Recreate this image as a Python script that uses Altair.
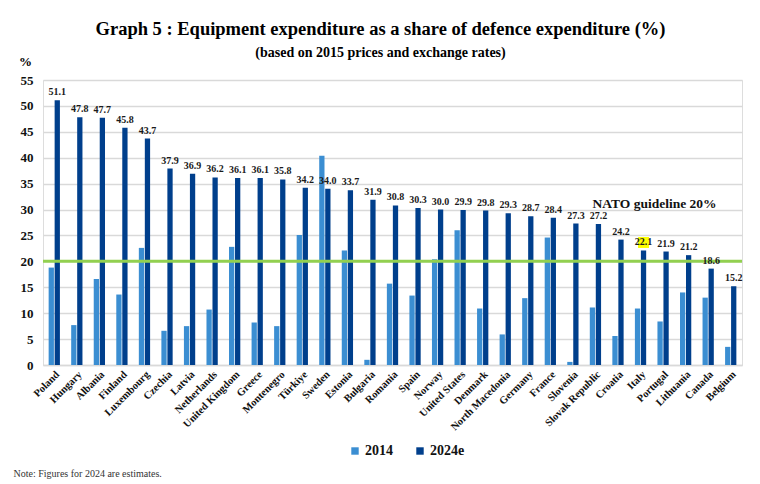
import altair as alt
import pandas as pd

countries = ["Poland", "Hungary", "Albania", "Finland", "Luxembourg", "Czechia", "Latvia",
             "Netherlands", "United Kingdom", "Greece", "Montenegro", "Türkiye", "Sweden",
             "Estonia", "Bulgaria", "Romania", "Spain", "Norway", "United States", "Denmark",
             "North Macedonia", "Germany", "France", "Slovenia", "Slovak Republic", "Croatia",
             "Italy", "Portugal", "Lithuania", "Canada", "Belgium"]
v2014 = [18.8, 7.7, 16.6, 13.6, 22.6, 6.6, 7.5, 10.7, 22.8, 8.2, 7.5, 25.1, 40.4, 22.1, 1.0,
         15.7, 13.4, 20.4, 26.0, 10.9, 5.9, 12.9, 24.6, 0.6, 11.1, 5.6, 10.9, 8.4, 14.0, 13.0, 3.5]
v2024 = [51.1, 47.8, 47.7, 45.8, 43.7, 37.9, 36.9, 36.2, 36.1, 36.1, 35.8, 34.2, 34.0, 33.7, 31.9,
         30.8, 30.3, 30.0, 29.9, 29.8, 29.3, 28.7, 28.4, 27.3, 27.2, 24.2, 22.1, 21.9, 21.2, 18.6, 15.2]
series = ["2014", "2024e"]
colors = ["#3b8ed2", "#003f8c"]
y_ticks = [0, 5, 10, 15, 20, 25, 30, 35, 40, 45, 50, 55]
guideline = 20
guideline_label = "NATO guideline 20%"
highlight = "Italy"

rows = []
for c, a, b in zip(countries, v2014, v2024):
    rows.append({"country": c, "series": series[0], "value": a})
    rows.append({"country": c, "series": series[1], "value": b})
df = pd.DataFrame(rows)

FONT = "Liberation Serif"

x = alt.X("country:N", sort=countries,
          scale=alt.Scale(paddingInner=0.5, paddingOuter=0.25),
          axis=alt.Axis(title="Note: Figures for 2024 are estimates.",
                        titleFont=FONT, titleFontSize=10, titleFontWeight="normal",
                        titleColor="#333333", titleAlign="left", titleBaseline="middle",
                        titleX=-30, titleY=108, titleAngle=0,
                        labelAngle=315, labelFont=FONT, labelFontSize=10.5,
                        labelFontWeight="bold", labelColor="#111111", labelPadding=4,
                        ticks=False, domainColor="#d9d9d9", domainWidth=1.5,
                        grid=False, labelOverlap=False))
xo = alt.XOffset("series:N", sort=series, scale=alt.Scale(paddingInner=0.12))
y = alt.Y("value:Q", scale=alt.Scale(domain=[0, 55], nice=False),
          axis=alt.Axis(title="%", titleAngle=0, titleX=-18, titleY=-12,
                        titleAlign="center", titleBaseline="bottom",
                        titleFont=FONT, titleFontSize=13, titleFontWeight="bold",
                        values=y_ticks, tickCount=12, labelOverlap=False,
                        labelFont=FONT, labelFontSize=13,
                        labelFontWeight="bold", labelColor="#111111", labelPadding=10,
                        ticks=False, domain=False, gridColor="#d9d9d9", gridWidth=1.5))

bars = alt.Chart(df).mark_bar().encode(
    x=x, xOffset=xo, y=y,
    color=alt.Color("series:N", sort=series,
                    scale=alt.Scale(domain=series, range=colors),
                    legend=alt.Legend(title=None, orient="none", legendX=305, legendY=364,
                                      direction="horizontal", symbolType="square",
                                      symbolSize=55, symbolStrokeWidth=0,
                                      labelFont=FONT, labelFontSize=14,
                                      labelFontWeight="bold", labelColor="#111111",
                                      columnPadding=20, labelOffset=3))
)

rule = alt.Chart(pd.DataFrame({"value": [guideline]})).mark_rule(
    color="#92d050", strokeWidth=3).encode(y=y)

hl = alt.Chart(df[(df.country == highlight) & (df.series == series[1])]).mark_square(
    size=120, color="#ffff00", opacity=1, yOffset=-8).encode(x=x, xOffset=xo, y=y)

labels = alt.Chart(df[df.series == series[1]]).mark_text(
    baseline="bottom", dy=-3, font=FONT, fontSize=10, fontWeight="bold", color="#1a1a1a"
).encode(x=x, xOffset=xo, y=y, text=alt.Text("value:Q", format=".1f"))

nato = alt.Chart(pd.DataFrame({"country": [highlight], "value": [31.0],
                               "t": [guideline_label]})).mark_text(
    font=FONT, fontSize=13.5, fontWeight="bold", color="#111111", dx=14
).encode(x=x, y=y, text="t:N")

chart = alt.layer(bars, rule, hl, labels, nato).properties(
    width=699, height=285,
    title=alt.TitleParams(
        text="Graph 5 : Equipment expenditure as a share of defence expenditure (%)",
        subtitle="(based on 2015 prices and exchange rates)",
        font=FONT, fontSize=18.5, fontWeight="bold", color="#000000",
        subtitleFont=FONT, subtitleFontSize=14, subtitleFontWeight="bold",
        subtitleColor="#000000", subtitlePadding=8, anchor="middle", dx=-12, dy=25,
        offset=20),
    autosize=alt.AutoSizeParams(type="none"),
    padding={"left": 43, "top": 80, "right": 18, "bottom": 119},
).configure_view(stroke=None).configure(background="white")

chart.save("out.html", embed_options={"renderer": "svg", "actions": False})
